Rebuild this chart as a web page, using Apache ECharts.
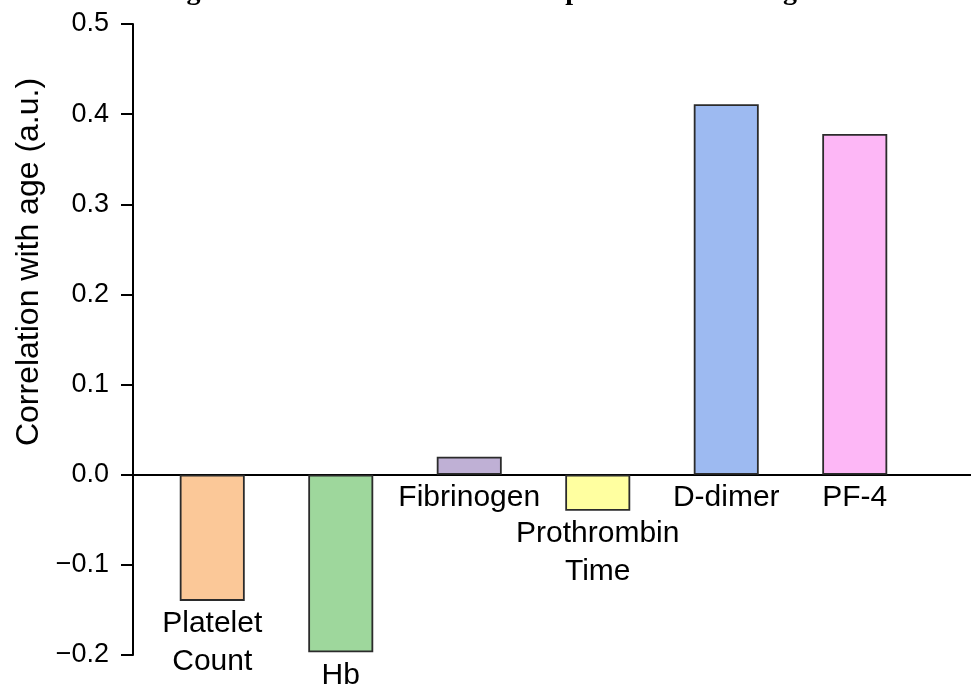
<!DOCTYPE html>
<html>
<head>
<meta charset="utf-8">
<script src="https://cdn.jsdelivr.net/npm/echarts@6/dist/echarts.min.js"></script>
<style>
html,body{margin:0;padding:0;background:#fff;}
#chart{width:971px;height:684px;}
</style>
</head>
<body>
<div id="chart"></div>
<script>
const titleText = 'Figure 2: Correlation of different parameters with age';
const categories = ['Platelet\nCount', 'Hb', 'Fibrinogen', 'Prothrombin\nTime', 'D-dimer', 'PF-4'];
const values = [-0.14, -0.197, 0.02, -0.04, 0.411, 0.378];
const barColors = ['#FBC898', '#9ED79C', '#BFB0D5', '#FFFFA0', '#9DBAF1', '#FDB7F6'];
const yMin = -0.2, yMax = 0.5, yStep = 0.1;
const yAxisTitle = 'Correlation with age (a.u.)';

const chart = echarts.init(document.getElementById('chart'));
const fmt = v => {
  const r = Math.round(v * 10) / 10;
  return (r < 0 ? '\u2212' : '') + Math.abs(r).toFixed(1);
};
chart.setOption({
  animation: false,
  backgroundColor: '#ffffff',
  graphic: [{
    type: 'text',
    left: 'center',
    top: -22,
    style: {
      text: titleText,
      font: 'bold 28px "Liberation Serif", serif',
      fill: '#000'
    }
  }],
  grid: [
    { left: 148, width: 771, top: 24, height: 631, containLabel: false, outerBoundsMode: 'none' },
    { left: 133, width: 838, top: 24, height: 631, containLabel: false, outerBoundsMode: 'none' }
  ],
  xAxis: [
    { type: 'category', gridIndex: 0, data: categories, show: false },
    { type: 'value', gridIndex: 1, min: 0, max: 1,
      axisLine: { show: true, onZero: true, lineStyle: { color: '#000', width: 2 } },
      axisTick: { show: false }, axisLabel: { show: false }, splitLine: { show: false } }
  ],
  yAxis: [
    { type: 'value', gridIndex: 0, min: yMin, max: yMax, interval: yStep, offset: 15,
      name: yAxisTitle, nameLocation: 'middle', nameGap: 80, nameRotate: 90,
      nameTextStyle: { fontFamily: '"Liberation Sans", Arial, sans-serif', fontSize: 32, color: '#000', padding: [0, 0, 0, 155] },
      axisLine: { show: true, lineStyle: { color: '#000', width: 2 } },
      axisTick: { show: true, length: 12, lineStyle: { color: '#000', width: 2 } },
      axisLabel: { fontFamily: '"Liberation Sans", Arial, sans-serif', fontSize: 27, color: '#000', margin: 24, formatter: fmt },
      splitLine: { show: false } },
    { type: 'value', gridIndex: 1, min: yMin, max: yMax, show: false }
  ],
  series: [{
    type: 'bar',
    xAxisIndex: 0, yAxisIndex: 0,
    barWidth: 65,
    data: values.map((v, i) => ({ value: v, itemStyle: { color: barColors[i] } })),
    itemStyle: { borderColor: '#2b2b2b', borderWidth: 1.8 },
    label: {
      show: true,
      position: 'bottom',
      distance: 4,
      formatter: p => categories[p.dataIndex],
      fontFamily: '"Liberation Sans", Arial, sans-serif',
      fontSize: 30,
      lineHeight: 38,
      color: '#000'
    }
  }]
});
</script>
</body>
</html>
